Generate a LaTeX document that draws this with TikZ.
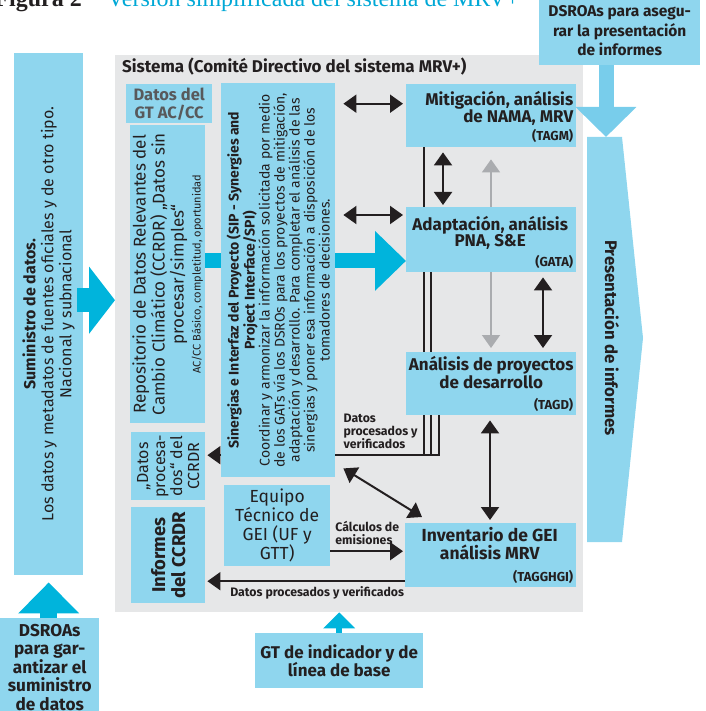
\documentclass[tikz,border=0pt]{standalone}
\usepackage{fontspec}
\setmainfont{Fira Sans}
\newfontfamily\ttlfont{Liberation Serif}
\usetikzlibrary{arrows.meta}
\pgfdeclarelayer{back}
\pgfdeclarelayer{mid}
\pgfsetlayers{back,mid,main}
\definecolor{boxblue}{RGB}{143,214,238}
\definecolor{arrowcyan}{RGB}{0,180,220}
\definecolor{sysgray}{RGB}{230,231,232}
\definecolor{inkdark}{RGB}{35,31,32}
\definecolor{labgray}{RGB}{88,89,91}
\definecolor{topblue}{RGB}{120,205,235}
\definecolor{titlecyan}{RGB}{0,168,214}
\definecolor{linkgray}{RGB}{170,172,175}
\tikzset{
  sysframe/.style = { fill=sysgray, inner sep=0pt, anchor=north west },
  box/.style      = { fill=boxblue, inner sep=0pt, anchor=north west },
  plain/.style    = { inner sep=0pt, text=inkdark },
  boxtext/.style  = { plain, align=center },
  tag/.style      = { plain, anchor=south east, font=\bfseries\fontsize{13}{14}\selectfont },
  note/.style     = { plain, align=left, font=\bfseries\fontsize{12.3}{13}\selectfont },
  link/.style     = { line width=2pt, draw=inkdark, {Triangle[width=18pt,length=13pt]}-{Triangle[width=18pt,length=13pt]} },
  flow/.style     = { line width=2pt, draw=inkdark, -{Triangle[width=18pt,length=13pt]} },
  wire/.style     = { line width=1.8pt, draw=inkdark },
  bigflow/.style  = { draw=arrowcyan, line width=#1 }
}

\begin{document}
\begin{tikzpicture}[x=1pt,y=-1pt]
  \clip (0,0) rectangle (705,711);
  % Title, cut at the top edge
  \node[plain, anchor=base east, font=\ttlfont\bfseries\fontsize{24}{26}\selectfont] (figno) at (82,7) {Figura 2};
  \node[plain, anchor=base west, text=titlecyan, font=\ttlfont\fontsize{24}{26}\selectfont] (figname) at (107,7) {Versión simplificada del sistema de MRV+};

  % Draw the system frame
  \begin{pgfonlayer}{back}
    \node[sysframe, minimum width=468pt, minimum height=557pt] (sys) at (115,55) {};
  \end{pgfonlayer}
  \node[plain, anchor=base west, font=\bfseries\fontsize{17}{18}\selectfont] (systitle) at (122,73) {Sistema (Comité Directivo del sistema MRV+)};

  % Draw all boxes
  \node[box, minimum width=69pt, minimum height=522pt] (supply) at (14,53) {};
  \node[box, minimum width=99pt, minimum height=93pt] (dsroa) at (0,618) {};
  \node[box, minimum width=168pt, minimum height=55pt] (gtbase) at (255,633) {};
  \node[box, minimum width=161pt, minimum height=65pt] (dsroatop) at (539,0) {};
  \node[box, minimum width=86pt, minimum height=39pt] (gtac) at (126,84) {};
  \node[box, minimum width=75pt, minimum height=298pt] (repo) at (130,125) {};
  \node[box, minimum width=114pt, minimum height=394pt] (sip) at (221,83) {};
  \node[box, minimum width=74pt, minimum height=68pt] (dproc) at (131,432) {};
  \node[box, minimum width=74pt, minimum height=96pt] (informes) at (131,507) {};
  \node[box, minimum width=106pt, minimum height=81pt] (equipo) at (224,485) {};
  \node[box, minimum width=170pt, minimum height=63pt] (mitig) at (406,84) {};
  \node[box, minimum width=170pt, minimum height=65pt] (adapt) at (406,207) {};
  \node[box, minimum width=170pt, minimum height=63pt] (tagd) at (406,352) {};
  \node[box, minimum width=171pt, minimum height=64pt] (inv) at (405,523) {};
  \fill[boxblue] (587,137) -- (622,137) -- (643,338) -- (622,542) -- (587,542) -- cycle;

  % Draw box texts
  \node[boxtext, rotate=90, font=\fontsize{16}{18}\selectfont] (supplytxt) at (supply.center) {\textbf{Suministro de datos.}\\Los datos y metadatos de fuentes oficiales y de otro tipo.\\Nacional y subnacional};
  \node[boxtext, font=\bfseries\fontsize{17.2}{18.5}\selectfont] (dsroatxt) at ([yshift=-2.5pt]dsroa.center) {DSROAs\\para gar-\\antizar el\\suministro\\de datos};
  \node[boxtext, font=\bfseries\fontsize{17}{18}\selectfont] (gttxt) at (gtbase.center) {GT de indicador y de\\línea de base};
  \node[boxtext, font=\bfseries\fontsize{15.5}{19.5}\selectfont] (dsroatoptxt) at ([yshift=2pt]dsroatop.center) {DSROAs para asegu-\\rar la presentación\\de informes};
  \node[boxtext, text=labgray, font=\bfseries\fontsize{16.5}{18}\selectfont] (gtactxt) at (gtac.center) {Datos del\\GT AC/CC};
  \node[boxtext, rotate=90, font=\fontsize{17}{19}\selectfont] (repotxt) at (repo.center) {Repositorio de Datos Relevantes del\\Cambio Climático (CCRDR) „Datos sin\\procesar/simples“\\[-2pt]{\fontsize{11}{13}\selectfont AC/CC Básico, completitud, oportunidad}};
  \node[boxtext, rotate=90, font=\fontsize{14}{15}\selectfont] (siptxt) at (sip.center) {\textbf{Sinergias e Interfaz del Proyecto (SIP - Synergies and}\\\textbf{Project Interface/SPI)}\\Coordinar y armonizar la información solicitada por medio\\de los GATs vía los DSROs para los proyectos de mitigación,\\adaptación y desarrollo. Para completar el análisis de las\\sinergias y poner esa información a disposición de los\\tomadores de decisiones.};
  \node[boxtext, rotate=90, font=\fontsize{16}{17}\selectfont] (dproctxt) at (dproc.center) {„Datos\\procesa-\\dos“ del\\CCRDR};
  \node[boxtext, rotate=90, font=\bfseries\fontsize{18.5}{20}\selectfont] (informestxt) at (informes.center) {Informes\\del CCRDR};
  \node[boxtext, font=\fontsize{17.5}{19}\selectfont] (equipotxt) at (equipo.center) {Equipo\\Técnico de\\GEI (UF y\\GTT)};
  \node[plain, align=right, anchor=north east, font=\bfseries\fontsize{17}{17}\selectfont] (mitigtxt) at ([xshift=-3pt,yshift=-7pt]mitig.north east) {Mitigación, análisis\\de NAMA, MRV};
  \node[boxtext, anchor=north, font=\bfseries\fontsize{17}{16}\selectfont] (adapttxt) at ([xshift=-1pt,yshift=-9pt]adapt.north) {Adaptación, análisis\\PNA, S\&E};
  \node[boxtext, anchor=north, font=\bfseries\fontsize{17}{16}\selectfont] (tagdtxt) at ([yshift=-4pt]tagd.north) {Análisis de proyectos\\de desarrollo};
  \node[boxtext, anchor=north, font=\bfseries\fontsize{17.5}{18}\selectfont] (invtxt) at ([xshift=-1pt,yshift=-4pt]inv.north) {Inventario de GEI\\análisis MRV};
  \node[tag] (tagm) at ([xshift=-3pt,yshift=5pt]mitig.south east) {(TAGM)};
  \node[tag] (gata) at ([xshift=-3pt,yshift=4pt]adapt.south east) {(GATA)};
  \node[tag] (tagdtag) at ([xshift=-3pt,yshift=4pt]tagd.south east) {(TAGD)};
  \node[tag] (tagghgi) at ([xshift=-3pt,yshift=4pt]inv.south east) {(TAGGHGI)};
  \node[plain, rotate=-90, font=\bfseries\fontsize{16.8}{18}\selectfont] (report) at (612,338) {Presentación de informes};

  % Draw big arrows
  \path ([yshift=11.5pt]adapt.south west) coordinate (feed);
  \draw[bigflow=15pt] (repo.east |- feed) -- (sip.west |- feed);
  \draw[bigflow=15pt, -{Triangle[width=58pt,length=31pt]}] (sip.east |- feed) -- (feed);
  \path ([xshift=-6pt,yshift=14pt]supply.east) coordinate (inflow);
  \draw[bigflow=24pt, -{Triangle[width=66pt,length=26pt]}] (inflow) -- (inflow -| sys.west);
  \path ([yshift=-7pt]supply.south) coordinate (supplyfoot);
  \draw[bigflow=17pt, -{Triangle[width=59pt,length=31pt]}] (dsroa.north -| supplyfoot) -- (supplyfoot);
  \draw[bigflow=6pt, -{Triangle[width=31pt,length=16pt]}] (gtbase.north) -- (gtbase.north |- sys.south);
  \coordinate (reporttop) at (606,137);
  \draw[draw=topblue, line width=15pt, -{Triangle[width=59pt,length=30pt]}] (dsroatop.south -| reporttop) -- (reporttop);

  % Draw links between the analysis groups
  \path ([yshift=12pt]mitig.west) coordinate (m1);
  \draw[link, shorten <=8pt, shorten >=3pt] (m1 -| sip.east) -- (m1);
  \path ([yshift=-8pt]adapt.north west) coordinate (a1);
  \draw[link, shorten <=8pt, shorten >=3pt] (a1 -| sip.east) -- (a1);
  \draw[link, shorten <=5pt, shorten >=2pt] ([xshift=37pt]mitig.south west) -- ([xshift=37pt]adapt.north west);
  \draw[link, shorten <=5pt, shorten >=4pt] ([xshift=137pt]adapt.south west) -- ([xshift=137pt]tagd.north west);
  \draw[link, shorten <=5pt, shorten >=3pt] ([xshift=84pt]tagd.south west) -- ([xshift=85pt]inv.north west);
  \draw[link] ([xshift=8pt,yshift=9pt]sip.south east) -- ([xshift=17pt,yshift=6pt]inv.north west);
  \begin{pgfonlayer}{mid}
    \draw[link, draw=linkgray, line width=1.6pt, shorten <=12pt, shorten >=4pt] ([xshift=85pt]mitig.south west) -- ([xshift=85pt]tagd.north west);
    \path ([yshift=-175pt]sip.east) coordinate (dp);
    \draw[wire] ([xshift=18pt]mitig.south west) |- (dp);
    \draw[wire] ([xshift=25pt]adapt.south west) |- (dp);
    \draw[wire] ([xshift=33pt]tagd.south west) |- (dp);
  \end{pgfonlayer}
  \node[note, anchor=south west] (dptxt) at ([xshift=8pt,yshift=6pt]dp) {Datos\\procesados y\\verificados};

  % Draw data flows
  \path ([yshift=-175pt]sip.west) coordinate (dp2);
  \draw[flow, shorten >=2pt] (dp2) -- (dp2 -| dproc.east);
  \path ([yshift=-25.5pt]equipo.east) coordinate (eq1);
  \draw[flow, shorten >=2pt] (eq1) -- node[note, pos=0, anchor=south west, xshift=4pt, yshift=5pt] (calc) {Cálculos de\\emisiones} (eq1 -| inv.west);
  \path ([yshift=-26pt]inv.west) coordinate (inv1);
  \draw[flow, shorten >=2pt] (inv1) -- node[note, below=4pt, xshift=12pt] (proc) {Datos procesados y verificados} (inv1 -| informes.east);
\end{tikzpicture}
\end{document}
